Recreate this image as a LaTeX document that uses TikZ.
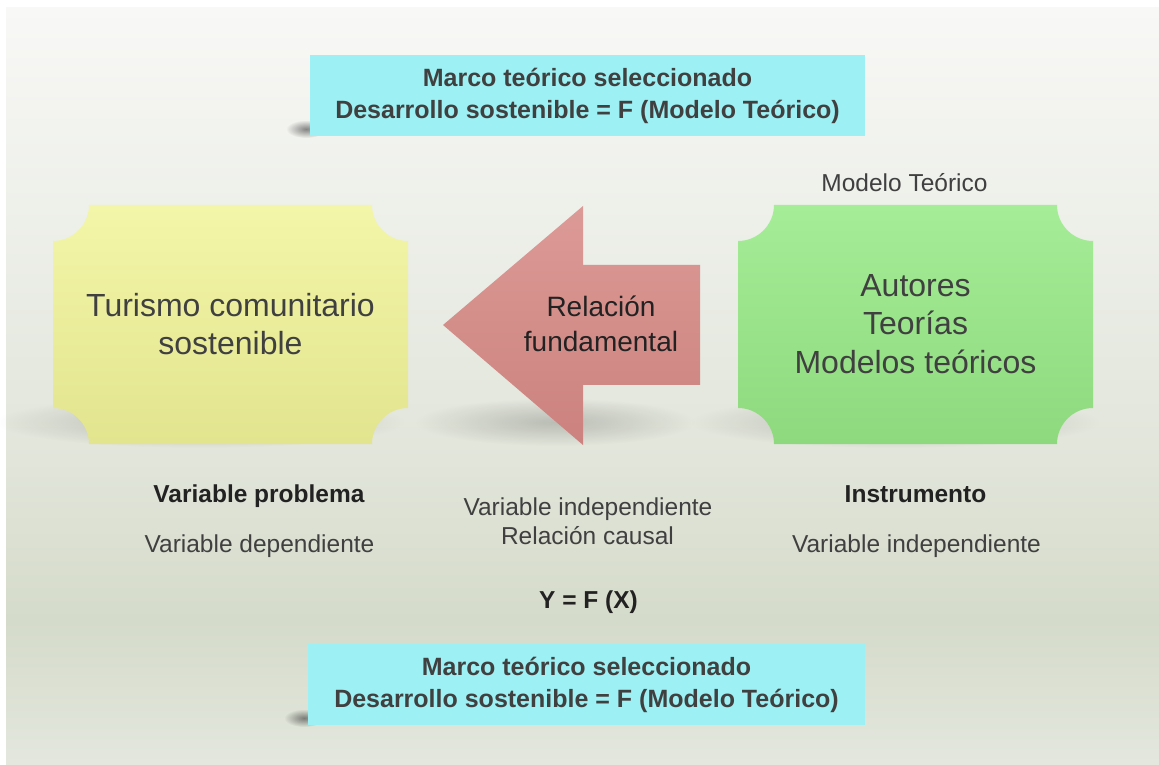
\documentclass[tikz,border=0pt]{standalone}
\usepackage{fontspec}
\setmainfont{Liberation Sans}
\usetikzlibrary{fadings}
\definecolor{bgT}{HTML}{F8F8F6}
\definecolor{bgA}{HTML}{EEF0EA}
\definecolor{bgB}{HTML}{E1E5DA}
\definecolor{bgC}{HTML}{D5DBCA}
\definecolor{bgD}{HTML}{E3E7DE}
\definecolor{yelT}{HTML}{F3F6A8}
\definecolor{yelB}{HTML}{E2E48E}
\definecolor{grnT}{HTML}{A5ED97}
\definecolor{grnB}{HTML}{8ED97E}
\definecolor{redT}{HTML}{DC9A96}
\definecolor{redB}{HTML}{CC827E}
\definecolor{cyanbox}{HTML}{9DF0F3}
\definecolor{txt}{HTML}{404040}
\definecolor{txtdark}{HTML}{222222}
\pgfdeclareverticalshading{bgshade}{100bp}{color(0bp)=(bgD); color(25bp)=(bgD); color(34.5bp)=(bgC); color(45bp)=(bgB); color(62bp)=(bgA); color(75bp)=(bgT); color(100bp)=(bgT)}
\tikzfading[name=softfade, inner color=transparent!0, outer color=transparent!100]
\tikzset{
  bigtext/.style={font=\fontsize{32}{38.5}\selectfont, align=center, text=txt, inner sep=0pt},
  arrowtext/.style={font=\fontsize{28}{35}\selectfont, align=center, text=txtdark, inner sep=0pt},
  smalltext/.style={font=\fontsize{24.5}{29}\selectfont, text=txt, inner sep=0pt, anchor=base},
  smallbold/.style={font=\fontsize{24.5}{29}\selectfont\bfseries, text=txtdark, inner sep=0pt, anchor=base},
  cyantext/.style={font=\fontsize{25}{32}\selectfont\bfseries, align=center, text=txt, inner sep=0pt},
  cyanframe/.style={fill=cyanbox, draw=none},
  shadowblob/.style={fill=black, fill opacity=#1, path fading=softfade},
  shadowblob/.default=0.22,
}
\newcommand{\notchbox}[5]{%
  \shade[#5] (#1+36,#4) -- (#2-36,#4) arc[start angle=180, end angle=270, radius=36]
    -- (#2,#3+36) arc[start angle=90, end angle=180, radius=36]
    -- (#1+36,#3) arc[start angle=0, end angle=90, radius=36]
    -- (#1,#4-36) arc[start angle=270, end angle=360, radius=36] -- cycle;}
\begin{document}
\begin{tikzpicture}[x=1pt,y=1pt]
\useasboundingbox (0,0) rectangle (1159,764);
\fill[white] (0,0) rectangle (1159,764);
\shade[shading=bgshade] (6,0) rectangle (1159,756);

% shadows
\path[shadowblob=0.2] (200,342) ellipse [x radius=205, y radius=26];
\path[shadowblob=0.18] (555,342) ellipse [x radius=140, y radius=24];
\path[shadowblob=0.2] (895,342) ellipse [x radius=205, y radius=26];
\path[shadowblob=0.45] (306,635) ellipse [x radius=20, y radius=9];
\path[shadowblob=0.45] (304,46) ellipse [x radius=20, y radius=9];

% cyan boxes
\path[cyanframe] (310,628) rectangle (865,709);
\node[cyantext] (topbox) at (587.5,668.5) {Marco teórico seleccionado\\Desarrollo sostenible = F (Modelo Teórico)};
\path[cyanframe] (308,39) rectangle (865,120);
\node[cyantext] (botbox) at (586.5,79.5) {Marco teórico seleccionado\\Desarrollo sostenible = F (Modelo Teórico)};

% yellow box
\notchbox{53}{408}{320}{559}{top color=yelT, bottom color=yelB}
\node[bigtext] (yel) at (230.5,440) {Turismo comunitario\\sostenible};

% green box
\notchbox{738}{1093}{320}{559}{top color=grnT, bottom color=grnB}
\node[bigtext] (grn) at (915.5,440) {Autores\\Teorías\\Modelos teóricos};
\node[smalltext] (modelo) at (904.5,572.3) {Modelo Teórico};

% red arrow
\shade[top color=redT, bottom color=redB] (443,439) -- (583,558) -- (583,499) -- (700,499) -- (700,379) -- (583,379) -- (583,319) -- cycle;
\node[arrowtext] (rel) at (601,440) {Relación\\fundamental};

% lower labels
\node[smallbold] (vprob) at (259,262) {Variable problema};
\node[smalltext] (vdep) at (259.5,212) {Variable dependiente};
\node[smalltext] (vind) at (588,249) {Variable independiente};
\node[smalltext] (rcaus) at (587.5,220) {Relación causal};
\node[smallbold] (yfx) at (588.5,156) {Y = F (X)};
\node[smallbold] (instr) at (915.5,262) {Instrumento};
\node[smalltext] (vind2) at (916.5,212) {Variable independiente};
\end{tikzpicture}
\end{document}
